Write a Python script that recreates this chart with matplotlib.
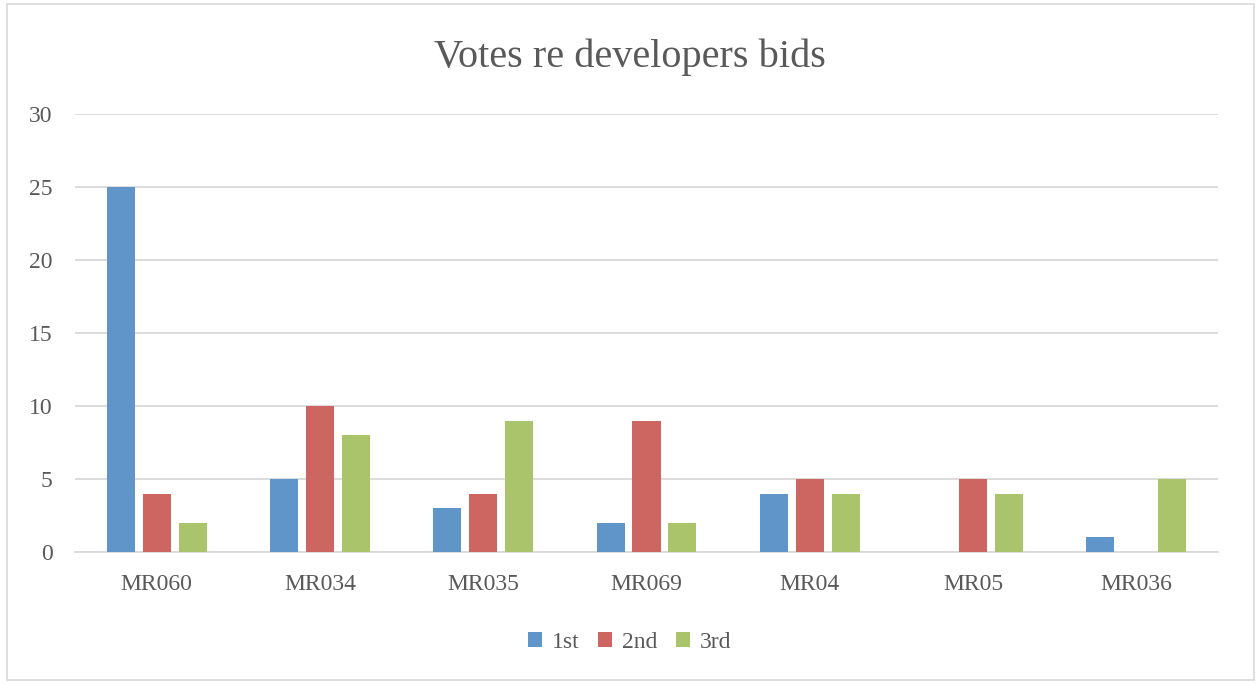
import matplotlib.pyplot as plt
import numpy as np
from matplotlib.patches import Rectangle

# data
categories = ['MR060', 'MR034', 'MR035', 'MR069', 'MR04', 'MR05', 'MR036']
first = [25, 5, 3, 2, 4, 0, 1]
second = [4, 10, 4, 9, 5, 5, 0]
third = [2, 8, 9, 2, 4, 4, 5]
series_names = ['1st', '2nd', '3rd']

colors = ['#5F95C8', '#CD6660', '#AAC46C']
txt = '#595959'

plt.rcParams['font.family'] = ['Liberation Serif', 'DejaVu Serif']

fig = plt.figure(figsize=(12.59, 6.84), dpi=100)
# outer chart border
fig.patches.append(Rectangle((7/1259, 4/684), 1 - 12/1259, 1 - 8/684,
                             transform=fig.transFigure, fill=False,
                             edgecolor='#D9D9D9', linewidth=1.2))

ax = fig.add_axes([75/1259, 1 - 552/684, (1218 - 75)/1259, (552 - 114)/684])
x = np.arange(len(categories))
w = 0.172
step = 0.22
for i, vals in enumerate([first, second, third]):
    ax.bar(x + (i - 1) * step, vals, w, color=colors[i], label=series_names[i], zorder=3)

ax.set_xlim(-0.5, len(categories) - 0.5)
ax.set_ylim(0, 30)
ax.set_yticks(range(0, 31, 5))
ax.grid(axis='y', color='#D9D9D9', linewidth=1.3, zorder=0)
for s in ['top', 'right', 'left']:
    ax.spines[s].set_visible(False)
ax.spines['bottom'].set_color('#D9D9D9')
ax.spines['bottom'].set_linewidth(1.3)
ax.set_xticks(x)
ax.set_xticklabels(categories)
ax.tick_params(axis='both', length=0, labelsize=17, colors=txt)
ax.tick_params(axis='x', pad=16)
ax.tick_params(axis='y', pad=16)

fig.text(0.5, 1 - 57/684, 'Votes re developers bids', ha='center', va='center',
         fontsize=29, color=txt)

fig.legend(loc='center', bbox_to_anchor=(0.5, 1 - 642/684), ncol=3, frameon=False,
           fontsize=17, labelcolor=txt, handlelength=0.6, handleheight=0.6,
           handletextpad=0.4, columnspacing=0.8)

fig.savefig('out.png', dpi=100)
